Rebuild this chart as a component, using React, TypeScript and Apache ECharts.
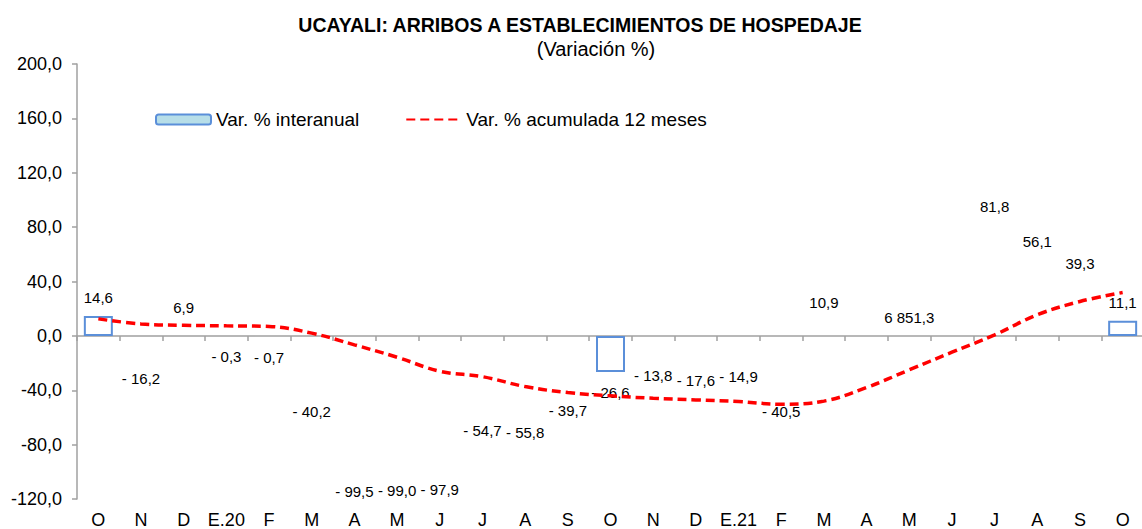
import React, { useEffect, useRef } from "react";
import * as echarts from "echarts";

const categories = ["O", "N", "D", "E.20", "F", "M", "A", "M", "J", "J", "A", "S", "O", "N", "D", "E.21", "F", "M", "A", "M", "J", "J", "A", "S", "O"];
const varInteranual: (number | null)[] = [14.6, -16.2, 6.9, -0.3, -0.7, -40.2, -99.5, -99.0, -97.9, -54.7, -55.8, -39.7, -26.6, -13.8, -17.6, -14.9, -40.5, 10.9, null, 6851.3, null, 81.8, 56.1, 39.3, 11.1];
const varAcumulada12: number[] = [12.5, 8.8, 7.8, 7.4, 6.9, 2.0, -6.6, -15.7, -26.0, -30.0, -37.3, -41.7, -44.1, -45.9, -47.1, -48.3, -50.3, -48.0, -38.0, -25.0, -12.0, 0.7, 15.5, 25.3, 31.9];
const highlighted: boolean[] = [true, false, false, false, false, false, false, false, false, false, false, false, true, false, false, false, false, false, false, false, false, false, false, false, true];
const yTicks = { min: -120, max: 200, interval: 40 };

const FONT = "'Liberation Sans', Arial, sans-serif";
const BLUE = "#5B8FD9";
const LIGHT = "#B7DEE8";

function fmt(v: number): string {
  const abs = Math.abs(v).toFixed(1);
  const [ip, dp] = abs.split(".");
  const ipS = ip.replace(/\B(?=(\d{3})+(?!\d))/g, " ");
  const s = ipS + "," + dp;
  return v < 0 ? "- " + s : s;
}

export default function App() {
  const ref = useRef<HTMLDivElement>(null);
  useEffect(() => {
    if (!ref.current) return;
    const chart = echarts.init(ref.current, null, { renderer: "svg" });
    const barData = varInteranual.map((v, i) => {
      if (v === null) return { value: null };
      const over = v > yTicks.max;
      return {
        value: v,
        itemStyle: highlighted[i]
          ? { color: "#FFFFFF", borderColor: BLUE, borderWidth: 2 }
          : { color: "rgba(0,0,0,0)", borderWidth: 0 },
        label: {
          show: true,
          position: over ? "insideBottom" : v >= 0 ? "top" : "bottom",
          distance: over ? 11 : v >= 0 ? 11 : 13,
        },
      };
    });
    chart.setOption({
      animation: false,
      textStyle: { fontFamily: FONT },
      title: [
        {
          text: "UCAYALI: ARRIBOS A ESTABLECIMIENTOS DE HOSPEDAJE",
          left: 575,
          top: 10,
          textAlign: "center",
          textStyle: { fontFamily: FONT, fontSize: 19.5, fontWeight: "bold", color: "#000" },
        },
        {
          text: "(Variación %)",
          left: 591,
          top: 34,
          textAlign: "center",
          textStyle: { fontFamily: FONT, fontSize: 20, fontWeight: "normal", color: "#000" },
        },
      ],
      legend: {
        left: 150,
        top: 105,
        itemWidth: 55,
        itemHeight: 10,
        itemGap: 46,
        textStyle: { fontFamily: FONT, fontSize: 19, color: "#000" },
        data: [
          { name: "Var. % interanual", itemStyle: { color: LIGHT, borderColor: BLUE, borderWidth: 2 } },
          { name: "Var. % acumulada 12 meses", itemStyle: { color: "rgba(0,0,0,0)", borderWidth: 0 } },
        ],
      },
      grid: { left: 77, right: -2, top: 64, bottom: 30, containLabel: false, outerBoundsMode: "none" },
      xAxis: {
        type: "category",
        data: categories,
        axisLine: { onZero: true, lineStyle: { color: "#A0A0A0", width: 1.5 } },
        axisTick: { show: true, length: 5, lineStyle: { color: "#A0A0A0", width: 1.5 } },
        axisLabel: { margin: 12, lineHeight: 18, fontFamily: FONT, fontSize: 18, color: "#000", interval: 0 },
        splitLine: { show: false },
      },
      yAxis: {
        type: "value",
        min: yTicks.min,
        max: yTicks.max,
        interval: yTicks.interval,
        axisLine: { show: true, lineStyle: { color: "#A0A0A0", width: 1.5 } },
        axisTick: { show: true, length: 5, lineStyle: { color: "#A0A0A0", width: 1.5 } },
        axisLabel: {
          margin: 15,
          fontFamily: FONT,
          fontSize: 18,
          color: "#000",
          formatter: (v: number) => v.toFixed(1).replace(".", ","),
        },
        splitLine: { show: false },
      },
      series: [
        {
          name: "Var. % interanual",
          type: "bar",
          barWidth: 29,
          data: barData,
          itemStyle: { color: LIGHT, borderColor: BLUE, borderWidth: 2 },
          label: {
            show: true,
            fontFamily: FONT,
            fontSize: 15,
            color: "#000",
            formatter: (p: any) => fmt(p.value),
          },
          z: 2,
        },
        {
          name: "Var. % acumulada 12 meses",
          type: "line",
          data: varAcumulada12,
          smooth: 0.4,
          symbol: "none",
          lineStyle: { color: "#FF0000", width: 3.5, type: [9, 5] },
          itemStyle: { color: "#FF0000" },
          z: 3,
        },
      ],
    });
    return () => chart.dispose();
  }, []);
  return <div ref={ref} style={{ position: "absolute", left: 0, top: 0, width: 1142, height: 529 }} />;
}
